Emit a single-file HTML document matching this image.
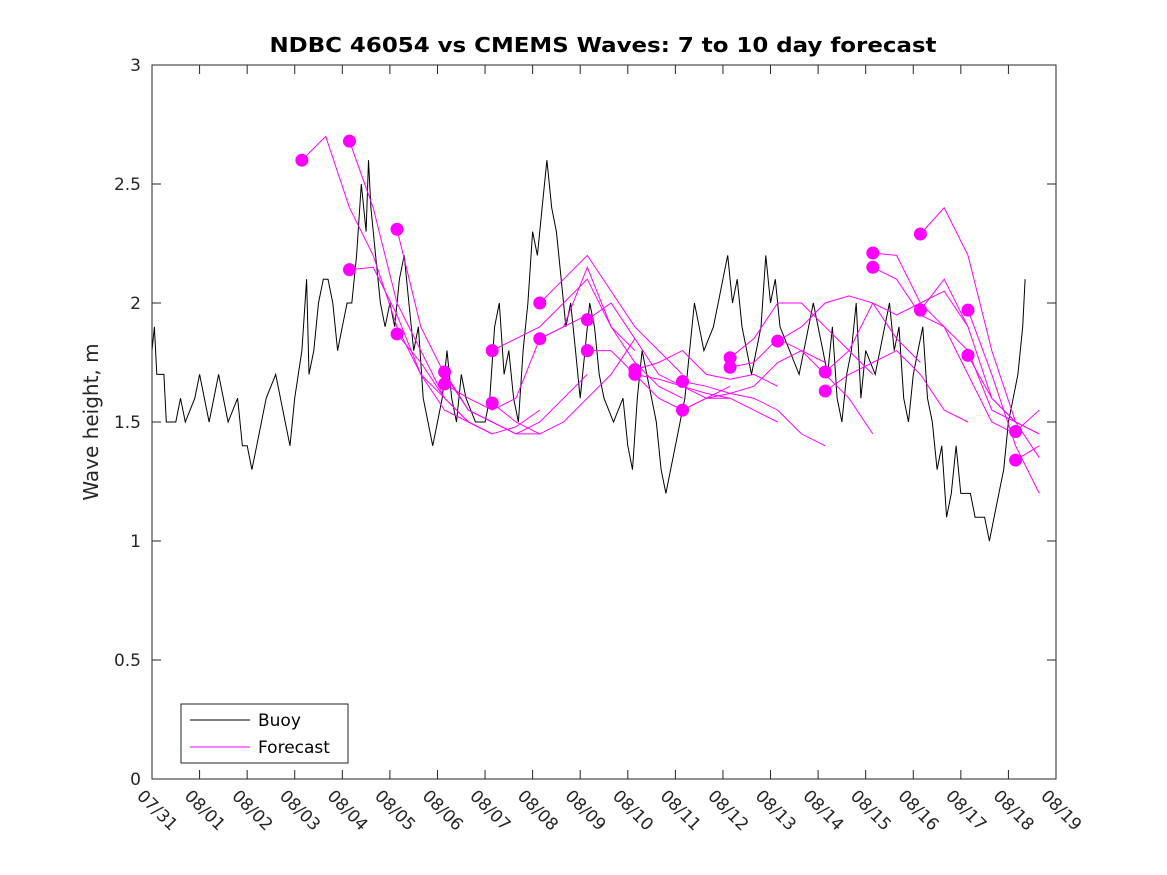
<!DOCTYPE html>
<html><head><meta charset="utf-8"><style>
body{margin:0;background:#fff;}
svg{display:block;font-family:"DejaVu Sans","Liberation Sans",sans-serif;}
</style></head><body>
<svg id="chart" width="1167" height="875">
<rect x="0" y="0" width="1167" height="875" fill="#fff"/>
<text x="603" y="52" text-anchor="middle" font-size="20" font-weight="bold" fill="#000" textLength="667" lengthAdjust="spacingAndGlyphs">NDBC 46054 vs CMEMS Waves: 7 to 10 day forecast</text>
<text transform="translate(98,422) rotate(-90)" text-anchor="middle" font-size="20" fill="#262626">Wave height, m</text>
<g id="plot"></g>
<rect x="152" y="65" width="904" height="714" fill="none" stroke="#262626" stroke-width="1"/>
<g>
<rect x="181" y="704" width="167" height="59" fill="#fff" stroke="#262626"/>
<line x1="190" y1="720" x2="250" y2="720" stroke="#000"/>
<text x="258" y="726" font-size="17" fill="#000">Buoy</text>
<line x1="190" y1="747" x2="250" y2="747" stroke="#f0f"/>
<text x="258" y="753" font-size="17" fill="#000">Forecast</text>
</g>
</svg>
<script>
const xTickLabels=["07/31","08/01","08/02","08/03","08/04","08/05","08/06","08/07","08/08","08/09","08/10","08/11","08/12","08/13","08/14","08/15","08/16","08/17","08/18","08/19"];
const yTicks=[0,0.5,1,1.5,2,2.5,3];
const buoyDays=[0,0.05,0.1,0.25,0.3,0.5,0.6,0.7,0.9,1.0,1.2,1.4,1.6,1.8,1.9,2.0,2.1,2.2,2.4,2.6,2.8,2.9,3.0,3.15,3.25,3.3,3.4,3.5,3.6,3.7,3.8,3.9,4.0,4.1,4.2,4.3,4.4,4.5,4.55,4.6,4.7,4.8,4.9,5.0,5.1,5.2,5.3,5.4,5.5,5.6,5.7,5.8,5.9,6.0,6.1,6.2,6.3,6.4,6.5,6.6,6.8,7.0,7.1,7.2,7.3,7.4,7.5,7.6,7.7,7.8,7.9,8.0,8.1,8.2,8.3,8.4,8.5,8.6,8.7,8.8,8.9,9.0,9.1,9.2,9.3,9.4,9.5,9.7,9.9,10.0,10.1,10.2,10.3,10.4,10.5,10.6,10.7,10.8,10.9,11.0,11.1,11.2,11.3,11.4,11.5,11.6,11.8,11.9,12.0,12.1,12.2,12.3,12.4,12.6,12.7,12.8,12.9,13.0,13.1,13.2,13.4,13.6,13.8,13.9,14.0,14.1,14.2,14.3,14.4,14.5,14.6,14.7,14.8,14.9,15.0,15.2,15.4,15.5,15.6,15.7,15.8,15.9,16.0,16.1,16.2,16.3,16.4,16.5,16.6,16.7,16.8,16.9,17.0,17.2,17.3,17.5,17.6,17.7,17.9,18.0,18.1,18.2,18.3,18.35];
const buoyValues=[1.8,1.9,1.7,1.7,1.5,1.5,1.6,1.5,1.6,1.7,1.5,1.7,1.5,1.6,1.4,1.4,1.3,1.4,1.6,1.7,1.5,1.4,1.6,1.8,2.1,1.7,1.8,2.0,2.1,2.1,2.0,1.8,1.9,2.0,2.0,2.2,2.5,2.3,2.6,2.4,2.2,2.0,1.9,2.0,1.9,2.1,2.2,2.0,1.8,1.9,1.6,1.5,1.4,1.5,1.6,1.8,1.6,1.5,1.7,1.6,1.5,1.5,1.6,1.9,2.0,1.7,1.8,1.6,1.5,1.8,2.0,2.3,2.2,2.4,2.6,2.4,2.3,2.1,1.9,2.0,1.8,1.6,1.8,2.0,1.9,1.7,1.6,1.5,1.6,1.4,1.3,1.6,1.8,1.7,1.6,1.5,1.3,1.2,1.3,1.4,1.5,1.6,1.8,2.0,1.9,1.8,1.9,2.0,2.1,2.2,2.0,2.1,1.9,1.7,1.8,1.9,2.2,2.0,2.1,1.9,1.8,1.7,1.9,2.0,1.9,1.8,1.7,1.9,1.6,1.5,1.7,1.8,2.0,1.6,1.8,1.7,1.9,2.0,1.8,1.9,1.6,1.5,1.7,1.8,1.9,1.6,1.5,1.3,1.4,1.1,1.2,1.4,1.2,1.2,1.1,1.1,1.0,1.1,1.3,1.5,1.6,1.7,1.9,2.1];
const fcStarts=[3.15,4.15,4.15,5.15,5.15,6.15,6.15,7.15,7.15,8.15,8.15,9.15,9.15,10.15,10.15,11.15,11.15,12.15,12.15,13.15,14.15,14.15,15.15,15.15,16.15,16.15,17.15,17.15,18.15,18.15];
const fcValues=[
[2.6,2.7,2.4,2.2,1.9,1.7,1.6],
[2.68,2.4,2.0,1.8,1.6,1.5,1.45],
[2.14,2.15,1.95,1.7,1.55,1.5,1.45],
[2.31,1.9,1.7,1.55,1.5,1.45,1.45],
[1.87,1.75,1.6,1.5,1.45,1.48,1.55],
[1.71,1.55,1.5,1.45,1.5,1.6,1.7],
[1.66,1.6,1.55,1.6,1.85,1.9,1.95],
[1.80,1.85,1.9,2.0,2.1,1.9,1.8],
[1.58,1.5,1.45,1.5,1.6,1.7,1.85],
[2.00,2.1,2.2,2.05,1.9,1.8,1.7],
[1.85,1.9,2.15,1.9,1.75,1.65,1.6],
[1.93,2.0,1.85,1.7,1.65,1.6,1.6],
[1.80,1.8,1.7,1.6,1.55,1.6,1.65],
[1.72,1.75,1.8,1.7,1.68,1.7,1.65],
[1.70,1.68,1.65,1.62,1.6,1.55,1.5],
[1.67,1.65,1.62,1.65,1.75,1.8,1.75],
[1.55,1.6,1.62,1.6,1.55,1.45,1.4],
[1.77,1.85,2.0,2.0,1.9,1.8,1.7],
[1.73,1.75,1.85,1.8,1.7,1.6,1.45],
[1.84,1.9,2.0,2.03,2.0,1.85,1.75],
[1.71,1.8,2.0,1.95,2.0,2.05,1.9],
[1.63,1.7,1.75,1.8,1.7,1.55,1.5],
[2.21,2.2,2.0,1.9,1.8,1.55,1.5],
[2.15,2.1,1.95,1.9,1.7,1.5,1.45],
[2.29,2.4,2.2,1.8,1.5,1.35,1.3],
[1.97,2.1,1.9,1.6,1.5,1.45,1.4],
[1.97,1.7,1.4,1.2,1.1,1.05,1.2],
[1.78,1.6,1.5,1.45,1.35,1.5,1.55],
[1.46,1.55,1.5,1.5,1.55,1.6],
[1.34,1.4,1.3,1.25,1.3]];
const fcStep=0.5;
const NS="http://www.w3.org/2000/svg";
const X=d=>152+d*(904/19), Y=v=>779-v*238;
const g=document.getElementById('plot');
function mk(t,a){const e=document.createElementNS(NS,t);for(const k in a)e.setAttribute(k,a[k]);g.appendChild(e);return e;}
xTickLabels.forEach((l,i)=>{
 const x=X(i);
 const t1=mk('line',{x1:x,y1:779,x2:x,y2:770,stroke:'#262626'});
 
 
 const t2=mk('line',{x1:x,y1:65,x2:x,y2:74,stroke:'#262626'});
 
 
 const tx=mk('text',{transform:`translate(${x-16},${797}) rotate(45)`,'font-size':17,fill:'#262626'});
 tx.textContent=l;
 
 
});
yTicks.forEach(v=>{
 const y=Y(v);
 const a=mk('line',{x1:152,y1:y,x2:161,y2:y,stroke:'#262626'});
 
 
 const b=mk('line',{x1:1047,y1:y,x2:1056,y2:y,stroke:'#262626'});
 
 
 const t=mk('text',{x:141,y:y+6,'text-anchor':'end','font-size':17,fill:'#262626'});
 t.textContent=String(v);
 
 
});
const bp=buoyValues.map((v,i)=>X(buoyDays[i]).toFixed(1)+','+Y(v).toFixed(1)).join(' ');
const bl=mk('polyline',{points:bp,fill:'none',stroke:'#000','stroke-width':1});


fcValues.forEach((vals,k)=>{
 const s=fcStarts[k];
 const pts=[];
 vals.forEach((v,i)=>{const d=s+i*fcStep; if(d<=19) pts.push(X(d).toFixed(1)+','+Y(v).toFixed(1));});
 const pl=mk('polyline',{points:pts.join(' '),fill:'none',stroke:'#f0f','stroke-width':1});
 
 
});
fcValues.forEach((vals,k)=>{
 const c=mk('circle',{cx:X(fcStarts[k]),cy:Y(vals[0]),r:6.5,fill:'#f0f'});
 
 
});
</script>
</body></html>
